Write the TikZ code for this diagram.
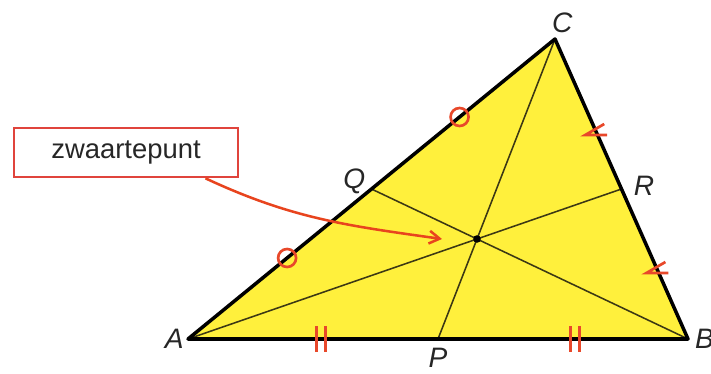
\documentclass[tikz,border=0pt]{standalone}
\usepackage{fontspec}
\setsansfont{Liberation Sans}
\usetikzlibrary{arrows.meta,positioning,calc}
\definecolor{vulgeel}{HTML}{FFF03C}
\definecolor{kaderrood}{HTML}{E0443C}
\definecolor{pijlrood}{HTML}{E8441E}
\definecolor{merkrood}{HTML}{E8482A}
\definecolor{mediaan}{HTML}{3C3814}
\tikzset{
  hoekpunt/.style={font=\sffamily\itshape\fontsize{20}{22}\selectfont, text=black!85, inner sep=0pt},
  kaderbox/.style={draw=kaderrood, line width=2pt, minimum width=5.6cm, minimum height=1.22cm,
    font=\sffamily\fontsize{19.5}{21}\selectfont, text=black!85},
  zijde/.style={line width=2.5pt, line join=round},
  zwaartelijn/.style={draw=mediaan, line width=1.1pt},
  pijl/.style={-{Straight Barb[length=2.6mm, width=3.2mm]}, draw=pijlrood, line width=1.8pt},
  cirkelmerk/.style={circle, draw=merkrood, line width=1.9pt, minimum size=0.45cm, inner sep=0pt},
  streepmerk/.style={draw=merkrood, line width=1.9pt},
  stip/.style={circle, fill=black, inner sep=0pt, minimum size=0.19cm}
}

\begin{document}
\begin{tikzpicture}[x=0.025cm, y=-0.025cm]
    \useasboundingbox (0,0) rectangle (711,374);
    \coordinate (A) at (188,339);
    \coordinate (B) at (688,339);
    \coordinate (C) at (555,39);
    \coordinate (P) at ($(A)!0.5!(B)$);
    \coordinate (Q) at ($(A)!0.5!(C)$);
    \coordinate (R) at ($(C)!0.5!(B)$);
    \coordinate (Z) at ($(A)!2/3!(R)$);
    \fill[vulgeel] (A) -- (B) -- (C) -- cycle;
    \draw[zwaartelijn] (A) -- (R);
    \draw[zwaartelijn] (B) -- (Q);
    \draw[zwaartelijn] (C) -- (P);
    \draw[zijde] (A) -- (B) -- (C) -- cycle;
    \node[stip] (zp) at (Z) {};
    \foreach \t/\n in {0.27/ma, 0.74/mc}
      \node[cirkelmerk] (\n) at ($(A)!\t!(C)$) {};
    \foreach \t in {0.266, 0.774} {
      \draw[streepmerk] ($(A)!\t!(B)+(-4.5,-13)$) -- ++(0,26);
      \draw[streepmerk] ($(A)!\t!(B)+(4.5,-13)$) -- ++(0,26);
    }
    \foreach \t in {0.31, 0.77}
      \draw[streepmerk] ($(C)!\t!(B)+(8,-8)$) -- ++(-19,11) -- ++(22,0);
    \node[hoekpunt, left=0.1cm of A] (lA) {A};
    \node[hoekpunt, right=0.17cm of B] (lB) {B};
    \node[hoekpunt, above=0.15cm of C, xshift=0.18cm] (lC) {C};
    \node[hoekpunt, below=0.22cm of P] (lP) {P};
    \node[hoekpunt, left=0.15cm of Q, yshift=0.2cm] (lQ) {Q};
    \node[hoekpunt, right=0.3cm of R, yshift=0.07cm] (lR) {R};
    \node[kaderbox] (zwaartepunt) at (126,152.5) {zwaartepunt};
    \coordinate (pijlpunt) at ($(Z)+(-35,0)$);
    \draw[pijl] (zwaartepunt.-18) to[out=-25, in=172] (pijlpunt);
  \end{tikzpicture}
\end{document}
